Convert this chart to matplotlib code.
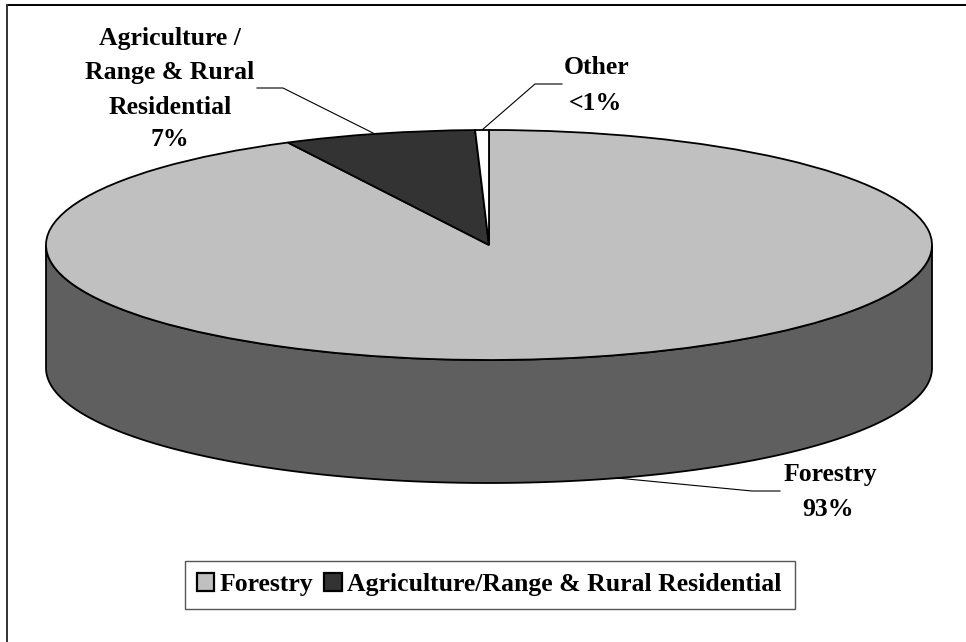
import numpy as np
import matplotlib
matplotlib.use("Agg")
import matplotlib.pyplot as plt
from matplotlib.patches import Rectangle

# Data
categories = ["Forestry", "Agriculture/Range & Rural Residential", "Other"]
shares = [92.5, 7.0, 0.5]
slice_colors = ["#c0c0c0", "#333333", "#ffffff"]
wall_color = "#5f5f5f"

W, H = 966, 642
CX, CY, RX, RY = 489, 245, 443, 115   # top ellipse, in pixels
DEPTH = 123

plt.rcParams["font.family"] = ["Liberation Serif", "DejaVu Serif"]
plt.rcParams["font.weight"] = "bold"

fig = plt.figure(figsize=(W / 100, H / 100), dpi=100, facecolor="white")

# background axes in pixel coords, y pointing down
bg = fig.add_axes([0, 0, 1, 1])
bg.set_xlim(0, W)
bg.set_ylim(H, 0)
bg.axis("off")

# frame: only the top and left edges are there
bg.plot([7, W], [5, 5], color="black", lw=1.4, solid_capstyle="butt")
bg.plot([7, 7], [4, H], color="#333333", lw=1.4, solid_capstyle="butt")

# side wall of the cylinder
t = np.linspace(0, np.pi, 200)
arc_x = CX + RX * np.cos(t)
arc_y = CY + RY * np.sin(t)
wall_x = np.concatenate([arc_x, arc_x[::-1]])
wall_y = np.concatenate([arc_y + DEPTH, arc_y[::-1]])
bg.fill(wall_x, wall_y, facecolor=wall_color, edgecolor="black", lw=1.3, zorder=2)

# top of the pie
pie_ax = fig.add_axes([(CX - RX) / W, 1 - (CY + RY) / H, 2 * RX / W, 2 * RY / H])
wedges, _ = pie_ax.pie(shares, colors=slice_colors, startangle=90, counterclock=False,
                       wedgeprops=dict(edgecolor="black", linewidth=1.3, clip_on=False))
pie_ax.set_aspect("auto")
pie_ax.set_xlim(-1, 1)
pie_ax.set_ylim(-1, 1)

# leader lines
bg.plot([257, 283, 373], [88, 88, 133], color="black", lw=0.8, zorder=3)
bg.plot([562, 535, 482], [84, 84, 130], color="black", lw=0.8, zorder=3)
bg.plot([780, 752, 617], [491, 491, 478], color="black", lw=0.8, zorder=3)

# data labels
label_size = 18.5
bg.text(170, 38, "Agriculture /", fontsize=label_size, ha="center", va="center")
bg.text(170, 73, "Range & Rural", fontsize=label_size, ha="center", va="center")
bg.text(170, 107, "Residential", fontsize=label_size, ha="center", va="center")
bg.text(170, 140, "7%", fontsize=label_size, ha="center", va="center")
bg.text(597, 68, "Other", fontsize=label_size, ha="center", va="center")
bg.text(595, 104, "<1%", fontsize=label_size, ha="center", va="center")
bg.text(830, 475, "Forestry", fontsize=label_size, ha="center", va="center")
bg.text(828, 509, "93%", fontsize=label_size, ha="center", va="center")

# legend box, then the entries inside it
bg.add_patch(Rectangle((185, 560.5), 610, 48, facecolor="white", edgecolor="#555555", lw=1.0))
leg = fig.legend(handles=wedges[:2], labels=categories[:2], loc="center",
                 bbox_to_anchor=(489 / W, 1 - 584.5 / H), ncol=2, fontsize=label_size,
                 frameon=False, handlelength=0.68, handleheight=0.68, handletextpad=0.2,
                 columnspacing=0.43, borderpad=0, borderaxespad=0)
for h in leg.legend_handles:
    h.set_linewidth(1.6)

fig.savefig("out.png", dpi=100)
